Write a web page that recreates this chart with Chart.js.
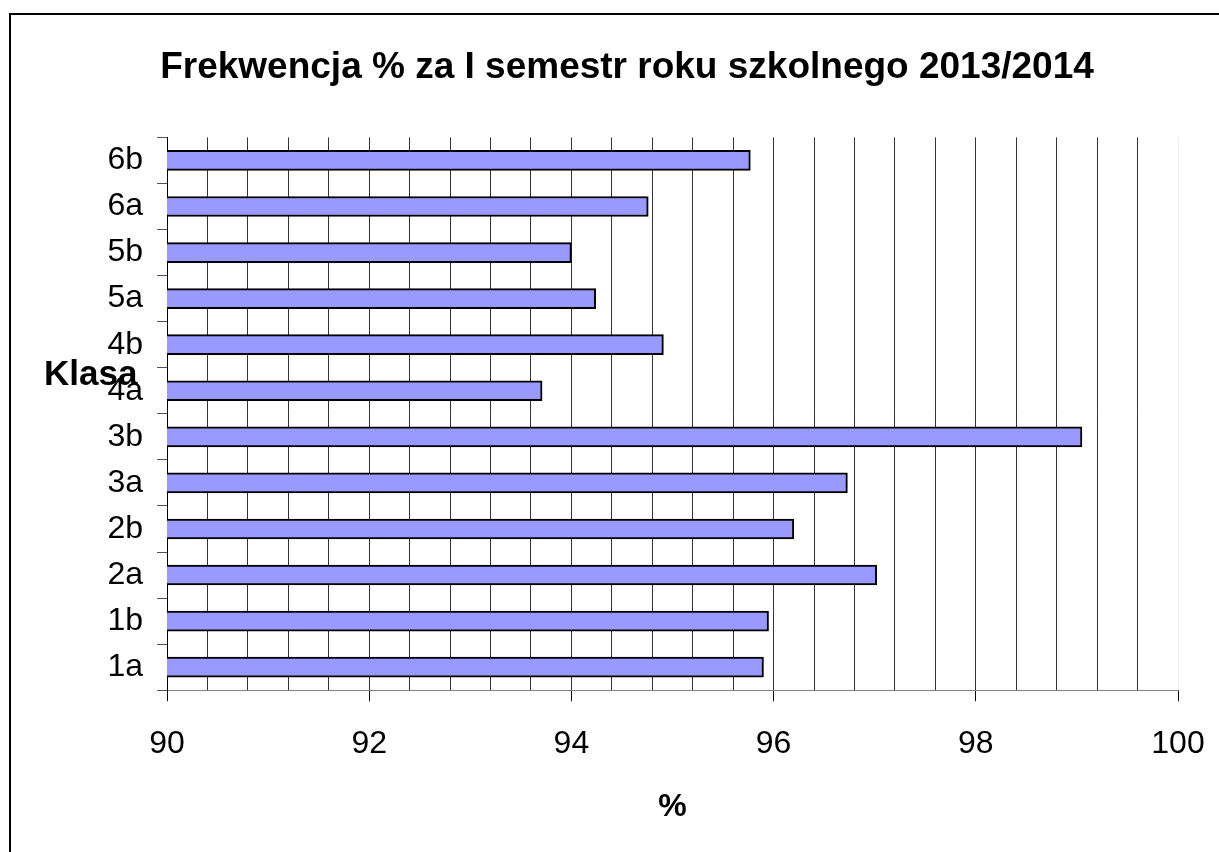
<!DOCTYPE html>
<html>
<head>
<meta charset="utf-8">
<script src="https://cdn.jsdelivr.net/npm/chart.js@4.4.1/dist/chart.umd.min.js"></script>
<style>
  body { margin: 0; background: #fff; }
  #wrap { position: relative; width: 1219px; height: 852px; overflow: hidden; }
  #frame { position: absolute; left: 9px; top: 13px; width: 1300px; height: 900px;
           border-left: 2px solid #000; border-top: 2px solid #000; }
  canvas { position: absolute; left: 0; top: 0; }
</style>
</head>
<body>
<div id="wrap">
  <div id="frame"></div>
  <canvas id="chart" width="1219" height="852"></canvas>
</div>
<script>
// data
const categories = ["1a", "1b", "2a", "2b", "3a", "3b", "4a", "4b", "5a", "5b", "6a", "6b"];
const attendance = [95.9, 95.95, 97.02, 96.2, 96.73, 99.05, 93.71, 94.91, 94.24, 94.0, 94.76, 95.77];
const xMin = 90;
const xMax = 100;
const gridStep = 0.4;   // vertical lines
const labelEvery = 5;   // a label every 2 %

const chartTitle = "Frekwencja % za I semestr roku szkolnego 2013/2014";
const yTitle = "Klasa";
const xTitle = "%";

const fontFamily = "'Liberation Sans', Arial, sans-serif";

// horizontal "Klasa" label sitting over the category labels
const klasaLabel = {
  id: "klasaLabel",
  afterDraw(chart) {
    const c = chart.ctx;
    c.save();
    c.font = "bold 35px " + fontFamily;
    c.fillStyle = "#000";
    c.textAlign = "left";
    c.textBaseline = "middle";
    c.fillText(yTitle, 44, 375);
    c.restore();
  }
};

const ctx = document.getElementById("chart");
new Chart(ctx, {
  type: "bar",
  data: {
    labels: categories,
    datasets: [{
      data: attendance,
      backgroundColor: "#9999ff",
      borderColor: "#000",
      borderWidth: 2,
      borderSkipped: false,
      barThickness: 20
    }]
  },
  options: {
    indexAxis: "y",
    responsive: false,
    animation: false,
    devicePixelRatio: 1,
    layout: { padding: { top: 13, left: 76, right: 41, bottom: 13 } },
    plugins: {
      legend: { display: false },
      tooltip: { enabled: false },
      title: {
        display: true,
        text: chartTitle,
        color: "#000",
        font: { family: fontFamily, size: 37, weight: "bold" },
        padding: { top: 33, bottom: 47 }
      }
    },
    scales: {
      x: {
        min: xMin,
        max: xMax,
        grid: {
          color: (c) => c.index === 25 ? "#eeeeee" : "#333",
          lineWidth: 1,
          tickLength: 11,
          tickColor: (c) => c.index % labelEvery === 0 ? "#000" : "rgba(0,0,0,0)"
        },
        border: { color: "#808080", width: 1 },
        ticks: {
          stepSize: gridStep,
          autoSkip: false,
          maxRotation: 0,
          padding: 24,
          color: "#000",
          font: { family: fontFamily, size: 32 },
          callback: (v, i) => i % labelEvery === 0 ? String(Math.round(v)) : ""
        },
        title: {
          display: true,
          text: xTitle,
          color: "#000",
          font: { family: fontFamily, size: 32, weight: "bold" },
          padding: { top: 0, bottom: 13 }
        },
        // let the layout padding decide the plot edges
        afterFit: (scale) => { scale.paddingLeft = 0; scale.paddingRight = 0; }
      },
      y: {
        reverse: true,
        grid: {
          offset: true,
          drawOnChartArea: false,
          tickLength: 10,
          color: "#555"
        },
        border: { color: "#000", width: 1 },
        ticks: {
          padding: 14,
          color: "#000",
          font: { family: fontFamily, size: 32 }
        },
        afterFit: (scale) => { scale.width = 91; }
      }
    }
  },
  plugins: [klasaLabel]
});
</script>
</body>
</html>
